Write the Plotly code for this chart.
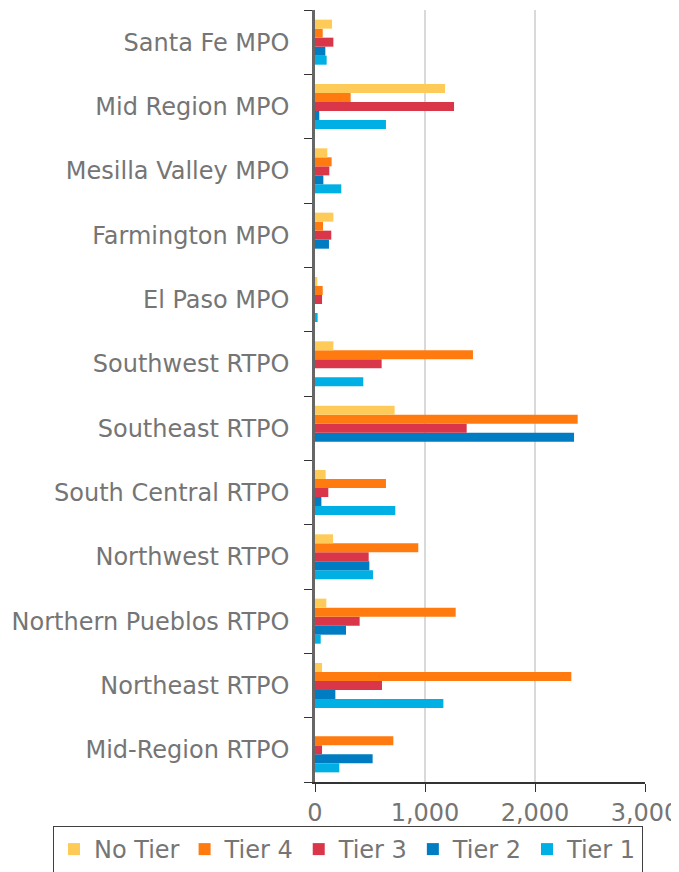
import plotly.graph_objects as go

# Categorías (de abajo hacia arriba, como en el eje)
regions = [
    'Mid-Region RTPO', 'Northeast RTPO', 'Northern Pueblos RTPO',
    'Northwest RTPO', 'South Central RTPO', 'Southeast RTPO',
    'Southwest RTPO', 'El Paso MPO', 'Farmington MPO',
    'Mesilla Valley MPO', 'Mid Region MPO', 'Santa Fe MPO'
]

no_tier = [0, 64, 103, 164, 97, 724, 167, 21, 167, 112, 1182, 155]
tier_4 = [712, 2330, 1279, 939, 645, 2388, 1436, 70, 73, 151, 324, 70]
tier_3 = [64, 609, 406, 488, 121, 1379, 606, 64, 148, 130, 1264, 167]
tier_2 = [524, 185, 282, 494, 58, 2355, 0, 0, 127, 76, 39, 94]
tier_1 = [221, 1167, 52, 527, 730, 0, 439, 24, 0, 239, 645, 106]

x_ticks = [0, 1000, 2000, 3000]
x_tick_labels = ['0', '1,000', '2,000', '3,000']

# Orden de trazas: Tier 1 abajo dentro de cada grupo, No Tier arriba
series = [
    ('Tier 1', tier_1, '#00AFE3'),
    ('Tier 2', tier_2, '#007CC2'),
    ('Tier 3', tier_3, '#DA3649'),
    ('Tier 4', tier_4, '#FF7B10'),
    ('No Tier', no_tier, '#FFCB58'),
]

fig = go.Figure()
for name, vals, color in series:
    fig.add_trace(go.Bar(
        y=regions,
        x=vals,
        name=name,
        orientation='h',
        marker=dict(color=color, line=dict(width=0)),
    ))

font_color = '#757575'
font_size = 24

# El body de la página tiene 8px de margen: se descuenta del tamaño
fig.update_layout(
    width=671,
    height=864,
    barmode='group',
    bargap=0.3,
    bargroupgap=0,
    plot_bgcolor='white',
    paper_bgcolor='white',
    font=dict(family='DejaVu Sans, Verdana, sans-serif', size=font_size, color=font_color),
    margin=dict(l=307, r=34, t=2, b=90, autoexpand=False),
    legend=dict(
        orientation='h',
        traceorder='reversed',
        x=-0.794,
        xanchor='left',
        y=-0.057,
        yanchor='top',
        bordercolor='#404040',
        borderwidth=1,
        font=dict(size=font_size, color=font_color),
        itemwidth=30,
    ),
    showlegend=True,
)

fig.update_xaxes(
    range=[0, 3000],
    tickvals=x_ticks,
    ticktext=x_tick_labels,
    ticklabeloverflow='allow',
    showgrid=True,
    gridcolor='#D9D9D9',
    gridwidth=2,
    zeroline=False,
    showline=True,
    linecolor='#333333',
    linewidth=1.5,
    ticks='outside',
    ticklen=8,
    tickcolor='#333333',
    tickfont=dict(size=font_size, color=font_color),
)

fig.update_yaxes(
    categoryorder='array',
    categoryarray=regions,
    showgrid=False,
    showline=True,
    linecolor='#666666',
    linewidth=2.5,
    ticks='outside',
    tickson='boundaries',
    ticklen=8,
    tickcolor='#333333',
    ticklabelstandoff=18,
    tickfont=dict(size=font_size, color=font_color),
)

fig.write_html('out.html')
